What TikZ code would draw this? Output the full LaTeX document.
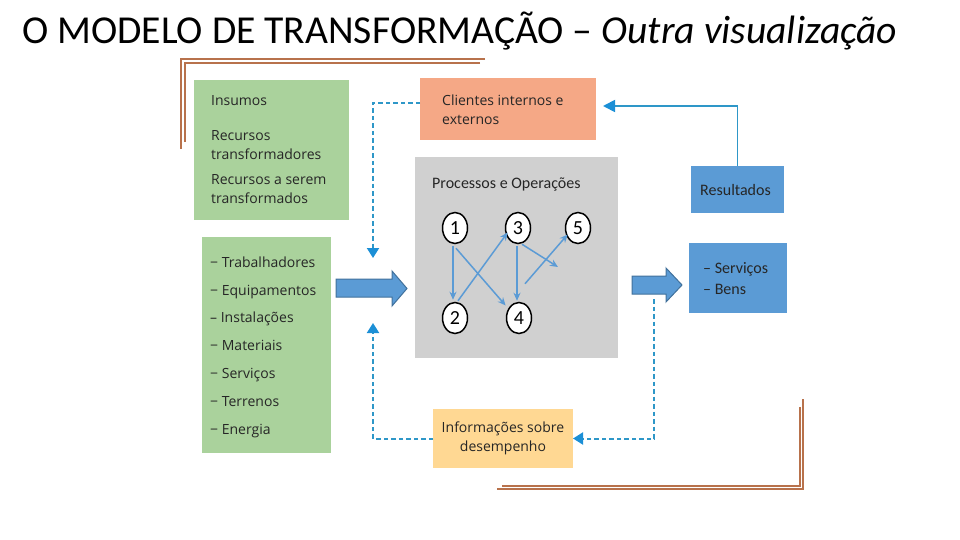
\documentclass[tikz,border=0pt]{standalone}
\usepackage{fontspec}
\setmainfont{Carlito}
\newfontfamily\osans{Open Sans}
\usetikzlibrary{arrows.meta,calc,shapes.geometric}
\definecolor{gbox}{HTML}{AAD29C}
\definecolor{sbox}{HTML}{F5A886}
\definecolor{grbox}{HTML}{D0D0D0}
\definecolor{ybox}{HTML}{FFD893}
\definecolor{bbox}{HTML}{5B9BD5}
\definecolor{bborder}{HTML}{41719C}
\definecolor{brn}{HTML}{B8724C}
\definecolor{dcol}{HTML}{2E97C8}
\definecolor{tipcol}{HTML}{1B8FD6}
\definecolor{inarr}{HTML}{5B9BD5}
\definecolor{txt}{HTML}{262626}
\begin{document}
\begin{tikzpicture}[x=1pt,y=-1pt,
  panel/.style={draw=none,inner sep=0,outer sep=0},
  osl/.style={inner sep=0,anchor=base west,align=left,text=txt,font=\osans\fontsize{14}{19}\selectfont},
  cal/.style={inner sep=0,anchor=base west,align=left,text=txt,font=\fontsize{16}{21}\selectfont},
  num/.style={ellipse,draw=black,line width=1.5pt,fill=white,minimum width=25,minimum height=31,inner sep=0,font=\fontsize{20}{20}\selectfont},
  flowarr/.style={draw=inarr,line width=1.5pt,-{Stealth[length=8,width=7]}},
  dline/.style={draw=dcol,line width=2pt,dash pattern=on 4.5pt off 3pt,-{Triangle[length=10,width=12,fill=tipcol,color=tipcol]}},
  sline/.style={draw=dcol,line width=1.8pt,-{Triangle[length=12,width=12,fill=tipcol,color=tipcol]}},
  bracket/.style={draw=brn,line width=1.5pt},
  bigarrow/.style={fill=bbox,draw=bborder,line width=1pt}
]
\useasboundingbox (0,0) rectangle (960,540);

% title
\node[inner sep=0,anchor=base west,font=\fontsize{39.6}{46}\selectfont] (title) at (22,44)
  {O MODELO DE TRANSFORMAÇÃO – \textit{Outra visualização}};

% brackets
\draw[bracket] (485,59) -- (181,59) -- (181,149);
\draw[bracket] (480,63) -- (185,63) -- (185,142);
\draw[bracket] (497,489) -- (803,489) -- (803,399);
\draw[bracket] (502,486) -- (800,486) -- (800,407);

% boxes
\node[panel,fill=gbox,minimum width=155,minimum height=140] (ins) at (271.5,150) {};
\node[panel,fill=gbox,minimum width=129,minimum height=216] (list) at (266.5,345) {};
\node[panel,fill=sbox,minimum width=176,minimum height=62] (cli) at (508,109) {};
\node[panel,fill=grbox,minimum width=203,minimum height=201] (proc) at (516.5,257.5) {};
\node[panel,fill=bbox,minimum width=93,minimum height=47] (res) at (737.5,189.5) {};
\node[panel,fill=bbox,minimum width=98,minimum height=70] (out) at (738,278) {};
\node[panel,fill=ybox,minimum width=140,minimum height=59] (info) at (503,438.5) {};

% texts (multi-line nodes: base anchor is the last line)
\node[osl] (t1) at (211,106) {Insumos};
\node[osl] (t2) at (211,160) {Recursos\\transformadores};
\node[osl] (t3) at (211,204) {Recursos a serem\\transformados};
\node[osl,font=\osans\fontsize{14}{27.8}\selectfont] (t4) at (210,434)
  {− Trabalhadores\\− Equipamentos\\– Instalações\\− Materiais\\− Serviços\\− Terrenos\\− Energia};
\node[osl] (t5) at (442,125) {Clientes internos e\\externos};
\node[cal] (t6) at (432,188) {Processos e Operações};
\node[cal] (t7) at (700,195) {Resultados};
\node[cal] (t8) at (703,294) {– Serviços\\– Bens};
\node[inner sep=0,anchor=base,align=center,text=txt,font=\osans\fontsize{14}{19}\selectfont] (t9) at (503,451)
  {Informações sobre\\desempenho};

% process circles
\node[num] (n1) at (455,228) {1};
\node[num] (n3) at (518,228) {3};
\node[num] (n5) at (578,228) {5};
\node[num] (n2) at (455,318) {2};
\node[num] (n4) at (519,318) {4};
\coordinate (free) at (558,267);

\draw[flowarr] ($(n1.south)+(-2,2)$) -- ($(n2.north)+(-2,-2)$);
\draw[flowarr] ($(n1.south)+(1,4)$) -- ($(n4.north west)+(-4,-1)$);
\draw[flowarr] ($(n2.north)+(3,-1)$) -- ($(n3.south west)+(-1,-7)$);
\draw[flowarr] ($(n3.south)+(-1,2)$) -- ($(n4.north)+(-2,-1)$);
\draw[flowarr] ($(n3.south)+(4,0)$) -- (free);
\draw[flowarr] ($(n4.north)+(6,-18)$) -- ($(n5.south west)+(-1,-5)$);

% big arrows
\draw[bigarrow] (336,279) -- (392,279) -- (392,271) -- (407,288.5) -- (392,306) -- (392,297) -- (336,297) -- cycle;
\draw[bigarrow] (632,276) -- (666,276) -- (666,268) -- (682,285) -- (666,302) -- (666,294) -- (632,294) -- cycle;

% feedback lines
\coordinate (topin) at (373,258);
\coordinate (botin) at (373,323);
\coordinate (fbstart) at (654,299);
\draw[dline] ($(cli.west)+(0,-6)$) -| (topin);
\draw[dline] (info.west) -| (botin);
\draw[dline] (fbstart) |- (info.east);
\draw[sline] (res.north) |- ($(cli.east)+(7,-3)$);
\end{tikzpicture}
\end{document}
